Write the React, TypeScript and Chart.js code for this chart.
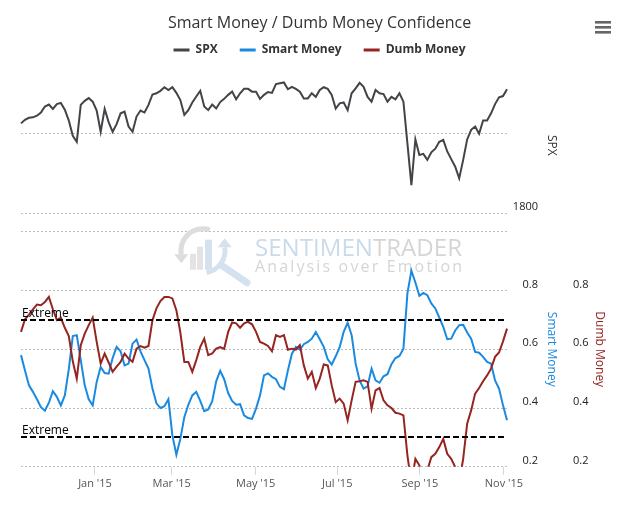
import React, { useEffect, useRef } from "react";
import { Chart, registerables } from "chart.js";

Chart.register(...registerables);

const FONT = "'Open Sans', 'DejaVu Sans', sans-serif";

// S&P 500 close, sampled every ~2 trading days (Nov 2014 - Nov 2015)
const SPX_CLOSE = [
  2024, 2033, 2038, 2039, 2043, 2051, 2066, 2071, 2060, 2072,
  2075, 2058, 2031, 1993, 1978, 2070, 2080, 2087, 2078, 2056,
  2003, 2060, 2027, 2003, 2022, 2049, 2053, 2016, 2003, 2041,
  2056, 2051, 2070, 2096, 2099, 2105, 2114, 2107, 2114, 2100,
  2082, 2045, 2057, 2076, 2091, 2105, 2066, 2057, 2071, 2061,
  2077, 2085, 2095, 2103, 2084, 2099, 2110, 2110, 2103, 2103,
  2085, 2095, 2102, 2100, 2122, 2124, 2126, 2109, 2115, 2110,
  2103, 2086, 2086, 2099, 2090, 2107, 2114, 2110, 2095, 2061,
  2074, 2076, 2057, 2099, 2111, 2125, 2115, 2090, 2078, 2107,
  2099, 2097, 2078, 2090, 2084, 2099, 2078, 1974, 1870, 1984,
  1945, 1948, 1933, 1952, 1961, 1978, 1983, 1954, 1935, 1916,
  1887, 1933, 1984, 2008, 2016, 1998, 2031, 2031, 2049, 2072,
  2089, 2092, 2109,
];

const SMART_MONEY = [
  0.580, 0.528, 0.477, 0.455, 0.430, 0.403, 0.391, 0.418, 0.457, 0.438,
  0.409, 0.443, 0.532, 0.645, 0.648, 0.563, 0.477, 0.430, 0.409, 0.489,
  0.540, 0.519, 0.517, 0.570, 0.608, 0.593, 0.545, 0.551, 0.619, 0.633,
  0.593, 0.563, 0.534, 0.466, 0.416, 0.400, 0.406, 0.430, 0.307, 0.241,
  0.295, 0.369, 0.411, 0.443, 0.455, 0.424, 0.389, 0.395, 0.423, 0.491,
  0.527, 0.498, 0.451, 0.424, 0.411, 0.413, 0.375, 0.366, 0.363, 0.398,
  0.443, 0.511, 0.518, 0.506, 0.498, 0.472, 0.464, 0.528, 0.585, 0.608,
  0.599, 0.617, 0.625, 0.636, 0.659, 0.634, 0.608, 0.566, 0.548, 0.576,
  0.607, 0.659, 0.690, 0.648, 0.551, 0.494, 0.466, 0.474, 0.534, 0.494,
  0.486, 0.508, 0.515, 0.549, 0.570, 0.577, 0.602, 0.790, 0.867, 0.827,
  0.782, 0.792, 0.784, 0.756, 0.739, 0.708, 0.676, 0.634, 0.636, 0.664,
  0.682, 0.683, 0.657, 0.636, 0.591, 0.588, 0.574, 0.557, 0.551, 0.494,
  0.466, 0.409, 0.358,
];

const DUMB_MONEY = [
  0.659, 0.702, 0.718, 0.736, 0.752, 0.750, 0.761, 0.778, 0.736, 0.699,
  0.707, 0.673, 0.645, 0.559, 0.500, 0.614, 0.653, 0.682, 0.708, 0.625,
  0.551, 0.585, 0.555, 0.523, 0.541, 0.557, 0.585, 0.568, 0.557, 0.602,
  0.611, 0.605, 0.611, 0.699, 0.739, 0.764, 0.778, 0.778, 0.773, 0.733,
  0.657, 0.557, 0.557, 0.523, 0.563, 0.608, 0.636, 0.580, 0.586, 0.602,
  0.607, 0.601, 0.659, 0.691, 0.688, 0.673, 0.688, 0.693, 0.685, 0.659,
  0.625, 0.619, 0.611, 0.593, 0.648, 0.642, 0.648, 0.598, 0.602, 0.599,
  0.614, 0.545, 0.500, 0.523, 0.468, 0.500, 0.548, 0.545, 0.477, 0.420,
  0.432, 0.415, 0.358, 0.426, 0.489, 0.491, 0.494, 0.489, 0.398, 0.460,
  0.468, 0.426, 0.409, 0.400, 0.384, 0.381, 0.375, 0.239, 0.142, 0.227,
  0.205, 0.148, 0.188, 0.233, 0.244, 0.267, 0.295, 0.244, 0.227, 0.199,
  0.148, 0.227, 0.347, 0.392, 0.449, 0.468, 0.491, 0.511, 0.534, 0.574,
  0.589, 0.627, 0.670,
];

const MONTH_LABELS = ["Jan '15", "Mar '15", "May '15", "Jul '15", "Sep '15", "Nov '15"];
const MONTH_POSITIONS = [18.57, 37.83, 58.91, 79.39, 100.15, 121.23];

const SPX_TICKS = [1800, 2000];
const SPX_LABELLED = [1800];
const CONF_TICKS = [0.2, 0.4, 0.6, 0.8, 1.0];
const CONF_LABEL_TICKS = [0.2, 0.4, 0.6, 0.8];
const EXTREME_LEVELS = [0.7, 0.3];

const COLORS = { spx: "#434348", smart: "#1a8ae0", dumb: "#962420" };
const GRID = "#bdbdbd";

const decorPlugin = {
  id: "decor",
  beforeDatasetsDraw(chart: any) {
    const { ctx } = chart;
    const ys = chart.scales.ySmart;
    const topY = ys.getPixelForValue(1.0);
    const cx = 203;
    const cy = topY + 19;
    ctx.save();
    ctx.lineWidth = 5;
    ctx.strokeStyle = "#dddddd";
    ctx.beginPath();
    ctx.arc(cx, cy, 22, Math.PI * 0.95, Math.PI * 1.6);
    ctx.stroke();
    const gx = cx + 22 * Math.cos(Math.PI * 0.95);
    const gy = cy + 22 * Math.sin(Math.PI * 0.95);
    ctx.fillStyle = "#dddddd";
    ctx.beginPath();
    ctx.moveTo(gx - 7, gy);
    ctx.lineTo(gx + 7, gy);
    ctx.lineTo(gx, gy + 9);
    ctx.closePath();
    ctx.fill();
    ctx.strokeStyle = "#d3e2ee";
    ctx.beginPath();
    ctx.arc(cx, cy, 22, -Math.PI * 0.05, Math.PI * 0.45);
    ctx.stroke();
    const bx = cx + 22 * Math.cos(-Math.PI * 0.05);
    const by = cy + 22 * Math.sin(-Math.PI * 0.05);
    ctx.fillStyle = "#d3e2ee";
    ctx.beginPath();
    ctx.moveTo(bx - 7, by);
    ctx.lineTo(bx + 7, by);
    ctx.lineTo(bx, by - 9);
    ctx.closePath();
    ctx.fill();
    ctx.fillStyle = "#e3e3e3";
    ctx.fillRect(cx - 13, cy + 3, 6, 16);
    ctx.fillRect(cx - 6, cy - 4, 6, 23);
    ctx.fillStyle = "#d3e2ee";
    ctx.fillRect(cx + 2, cy - 11, 7, 30);
    ctx.lineWidth = 7;
    ctx.lineCap = "round";
    ctx.beginPath();
    ctx.moveTo(cx + 19, cy + 15);
    ctx.lineTo(cx + 44, cy + 32);
    ctx.stroke();
    ctx.textAlign = "left";
    ctx.textBaseline = "alphabetic";
    ctx.font = `23px ${FONT}`;
    const w1 = ctx.measureText("SENTIMEN").width;
    const w2 = ctx.measureText("TRADER").width;
    const sx = 207 / (w1 + w2);
    ctx.save();
    ctx.translate(255, topY + 24);
    ctx.scale(sx, 1);
    ctx.fillStyle = "#c9dbea";
    ctx.fillText("SENTIMEN", 0, 0);
    ctx.fillStyle = "#d5d5d5";
    ctx.fillText("TRADER", w1, 0);
    ctx.restore();
    ctx.font = `16px ${FONT}`;
    ctx.fillStyle = "#d5d5d5";
    const tag = "Analysis over Emotion";
    const chars = tag.split("");
    const total = chars.reduce((s: number, c: string) => s + ctx.measureText(c).width, 0);
    const gap = (207 - total) / (chars.length - 1);
    let x = 255;
    chars.forEach((c: string) => {
      ctx.fillText(c, x, topY + 40);
      x += ctx.measureText(c).width + gap;
    });
    ctx.restore();
  },
  afterDatasetsDraw(chart: any) {
    const { ctx, chartArea } = chart;
    const ys = chart.scales.ySmart;
    ctx.save();
    ctx.beginPath();
    ctx.rect(chartArea.left, chartArea.top, chartArea.right - chartArea.left, chartArea.bottom - chartArea.top);
    ctx.clip();
    ctx.strokeStyle = "#000";
    ctx.lineWidth = 2;
    ctx.setLineDash([6, 3]);
    EXTREME_LEVELS.forEach((level) => {
      const y = Math.round(ys.getPixelForValue(level));
      ctx.beginPath();
      ctx.moveTo(chartArea.left, y);
      ctx.lineTo(chartArea.right, y);
      ctx.stroke();
    });
    ctx.setLineDash([]);
    ctx.fillStyle = "#000";
    ctx.font = `12px ${FONT}`;
    ctx.textAlign = "left";
    ctx.textBaseline = "alphabetic";
    EXTREME_LEVELS.forEach((level) => {
      const y = ys.getPixelForValue(level);
      ctx.fillText("Extreme", chartArea.left + 1, y - 3);
    });
    ctx.restore();
  },
  afterDraw(chart: any) {
    const { ctx, chartArea } = chart;
    const spx = chart.scales.ySpx;
    const sm = chart.scales.ySmart;
    const drawV = (text: string, x: number, y: number, color: string) => {
      ctx.save();
      ctx.translate(x, y);
      ctx.rotate(Math.PI / 2);
      ctx.font = `12px ${FONT}`;
      ctx.fillStyle = color;
      ctx.textAlign = "center";
      ctx.textBaseline = "middle";
      ctx.fillText(text, 0, 0);
      ctx.restore();
    };
    const spxMid = spx.getPixelForValue(SPX_TICKS[0]) - 68;
    const confMid = (sm.getPixelForValue(1.0) + sm.getPixelForValue(0.2)) / 2;
    drawV("SPX", chartArea.right + 44, spxMid, "#333333");
    drawV("Smart Money", chartArea.right + 44, confMid, COLORS.smart);
    drawV("Dumb Money", chartArea.right + 92, confMid, COLORS.dumb);
    ctx.save();
    ctx.fillStyle = "#666666";
    [21, 26, 31].forEach((y) => ctx.fillRect(595, y, 16, 2.6));
    ctx.restore();
  },
};

export default function App() {
  const ref = useRef<HTMLCanvasElement>(null);

  useEffect(() => {
    if (!ref.current) return;
    Chart.defaults.font.family = FONT;
    const labels = SPX_CLOSE.map((_, i) => i);
    const lineBase = {
      borderWidth: 2,
      pointRadius: 0,
      pointHoverRadius: 0,
      tension: 0,
      fill: false,
      clip: { left: 2, right: 2, top: 2, bottom: 0 },
    };
    const rightTicks = {
      labelOffset: -6,
      color: "#222222",
      font: { size: 11 },
    };
    const chart = new Chart(ref.current, {
      type: "line",
      data: {
        labels,
        datasets: [
          { ...lineBase, label: "SPX", data: SPX_CLOSE, yAxisID: "ySpx", borderColor: COLORS.spx, backgroundColor: COLORS.spx, order: 2 },
          { ...lineBase, label: "Smart Money", data: SMART_MONEY, yAxisID: "ySmart", borderColor: COLORS.smart, backgroundColor: COLORS.smart, order: 1 },
          { ...lineBase, label: "Dumb Money", data: DUMB_MONEY, yAxisID: "yDumb", borderColor: COLORS.dumb, backgroundColor: COLORS.dumb, order: 0 },
        ],
      } as any,
      options: {
        animation: false,
        responsive: true,
        maintainAspectRatio: false,
        layout: { padding: { left: 13, right: 0, top: 0, bottom: 20 } },
        plugins: {
          title: {
            display: true,
            text: "Smart Money / Dumb Money Confidence",
            color: "#333333",
            font: { size: 16, weight: "normal" },
            padding: { top: 13.4, bottom: -10.6 },
          },
          legend: {
            display: true,
            labels: {
              boxWidth: 16,
              boxHeight: 3,
              padding: 22,
              color: "#333333",
              font: { size: 12, weight: "bold" },
              sort: (a: any, b: any) => a.datasetIndex - b.datasetIndex,
              generateLabels: (c: any) =>
                (Chart.defaults.plugins.legend.labels as any)
                  .generateLabels(c)
                  .map((l: any) => ({ ...l, lineWidth: 0, fillStyle: l.strokeStyle })),
            },
          },
          tooltip: { enabled: false },
        },
        scales: {
          x: {
            type: "linear",
            min: 0,
            max: SPX_CLOSE.length - 1,
            afterBuildTicks: (s: any) => {
              s.ticks = MONTH_POSITIONS.map((value) => ({ value }));
            },
            ticks: {
              callback: (_v: any, i: number) => MONTH_LABELS[i],
              autoSkip: false,
              maxRotation: 0,
              padding: 2,
              color: "#555555",
              font: { size: 11 },
            },
            grid: { drawOnChartArea: false, drawTicks: true, tickLength: 8, color: "#ccd6eb" },
            border: { display: false },
          },
          yGutter: {
            position: "left",
            display: true,
            min: 0,
            max: 1,
            afterFit: (s: any) => {
              s.width = 8;
            },
            ticks: { display: false },
            grid: { display: false },
            border: { display: false },
          },
          ySpx: {
            position: "right",
            stack: "panes",
            stackWeight: 156,
            weight: 0,
            min: 1778.3,
            max: 2166.9,
            afterBuildTicks: (s: any) => {
              s.ticks = SPX_TICKS.map((value) => ({ value }));
            },
            afterFit: (s: any) => {
              s.width = 31;
            },
            ticks: {
              ...rightTicks,
              callback: (v: any) => (SPX_LABELLED.includes(v) ? String(v) : ""),
              crossAlign: "far",
              padding: 0,
            },
            grid: { color: GRID, drawTicks: false, lineWidth: 1 },
            border: { display: false, dash: [2, 2] },
          },
          ySmart: {
            position: "right",
            stack: "panes",
            stackWeight: 244.8,
            weight: 0,
            min: 0.2,
            max: 1.033,
            afterBuildTicks: (s: any) => {
              s.ticks = CONF_TICKS.map((value) => ({ value }));
            },
            afterFit: (s: any) => {
              s.width = 31;
            },
            ticks: {
              ...rightTicks,
              callback: (v: any) => (CONF_LABEL_TICKS.includes(v) ? v.toFixed(1) : ""),
              crossAlign: "far",
              padding: 0,
            },
            grid: { color: GRID, drawTicks: false, lineWidth: 1 },
            border: { display: false, dash: [2, 2] },
          },
          yDumb: {
            position: "right",
            weight: 1,
            min: 0.2,
            max: 1.5638,
            afterBuildTicks: (s: any) => {
              s.ticks = CONF_LABEL_TICKS.map((value) => ({ value }));
            },
            afterFit: (s: any) => {
              s.width = 88;
            },
            ticks: {
              ...rightTicks,
              callback: (v: any) => v.toFixed(1),
              crossAlign: "near",
              padding: 35,
            },
            grid: { drawOnChartArea: false, drawTicks: false },
            border: { display: false },
          },
        },
      } as any,
      plugins: [decorPlugin],
    });
    return () => chart.destroy();
  }, []);

  return (
    <div style={{ position: "absolute", left: 0, top: 0, width: 626, height: 512, background: "#ffffff" }}>
      <canvas ref={ref} />
    </div>
  );
}
